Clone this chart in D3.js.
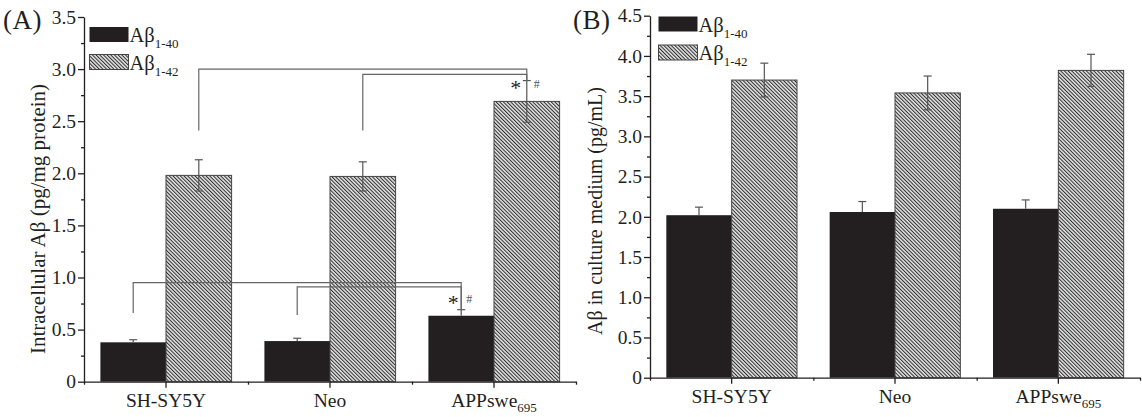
<!DOCTYPE html>
<html>
<head>
<meta charset="utf-8">
<script src="https://cdn.jsdelivr.net/npm/d3@7"></script>
<style>
  body { margin: 0; background: #fff; }
  svg text { font-family: "Liberation Serif", "Times New Roman", serif; fill: #231f20; }
</style>
</head>
<body>
<div id="chart"></div>
<script>
// categories and series
const categories = ["SH-SY5Y", "Neo", "APPswe"];
const catSubs = ["", "", "695"];
const seriesSubs = ["1-40", "1-42"];

// panel A: intracellular Abeta (pg/mg protein)
const intra140 = [0.378, 0.39, 0.633];
const intra140Err = [0.025, 0.027, 0.058];
const intra142 = [1.98, 1.97, 2.69];
const intra142Err = [0.15, 0.14, 0.20];

// panel B: Abeta in culture medium (pg/mL)
const medium140 = [2.02, 2.06, 2.10];
const medium140Err = [0.10, 0.13, 0.11];
const medium142 = [3.70, 3.54, 3.82];
const medium142Err = [0.21, 0.21, 0.20];

const yTicksA = [0, 0.5, 1.0, 1.5, 2.0, 2.5, 3.0, 3.5];
const yTicksB = [0, 0.5, 1.0, 1.5, 2.0, 2.5, 3.0, 3.5, 4.0, 4.5];

// significance brackets of panel A (from category -> to category, in one series)
const bracketsA = [
  {series: 1, from: 0, to: 2, level: 3.00, drop: 2.41},
  {series: 1, from: 1, to: 2, level: 2.95, drop: 2.41},
  {series: 0, from: 0, to: 2, level: 0.95, drop: 0.66},
  {series: 0, from: 1, to: 2, level: 0.91, drop: 0.64}
];
// "* #" marks next to the APPswe bars
const sigMarksA = [
  {series: 1, cat: 2, value: 2.86, dxStar: -11, dxHash: 10},
  {series: 0, cat: 2, value: 0.79, dxStar: -8, dxHash: 8}
];

const W = 1142, H = 417;
const ink = "#231f20";

const svg = d3.select("#chart").append("svg")
  .attr("width", W)
  .attr("height", H)
  .attr("font-family", "'Liberation Serif', 'Times New Roman', serif");

// hatch pattern for Abeta 1-42
const defs = svg.append("defs");
const pat = defs.append("pattern")
  .attr("id", "hatch")
  .attr("patternUnits", "userSpaceOnUse")
  .attr("width", 2.6)
  .attr("height", 2.6)
  .attr("patternTransform", "rotate(-45)");
pat.append("rect").attr("width", 2.6).attr("height", 2.6).attr("fill", "#e2e2e2");
pat.append("line")
  .attr("x1", 0.5).attr("y1", 0).attr("x2", 0.5).attr("y2", 2.6)
  .attr("stroke", "#2e2e2e").attr("stroke-width", 1);

function subText(sel, main, sub, bigSize, smallSize, dy) {
  sel.append("tspan").attr("font-size", bigSize).text(main);
  if (sub) sel.append("tspan").attr("font-size", smallSize).attr("dy", dy).text(sub);
}

function drawPanel(p) {
  const g = svg.append("g");

  const x = d3.scaleBand()
    .domain(categories)
    .range(p.xRange)
    .paddingInner(0)
    .paddingOuter(0);
  const bw = x.bandwidth();
  const barW = bw * 0.4;

  const y = d3.scaleLinear()
    .domain([0, p.yMax])
    .range(p.yRange);

  const series = [
    {vals: p.v140, errs: p.e140, fill: ink, stroke: "none", both: false},
    {vals: p.v142, errs: p.e142, fill: "url(#hatch)", stroke: "#444", both: true}
  ];

  // bar left edge for category i, series s
  const barX = (i, s) => x(categories[i]) + bw / 2 - barW + s * barW;
  const barMid = (i, s) => barX(i, s) + barW / 2;

  // bars
  series.forEach((s, si) => {
    g.append("g")
      .selectAll("rect")
      .data(s.vals)
      .join("rect")
        .attr("x", (d, i) => barX(i, si))
        .attr("y", d => y(d))
        .attr("width", barW)
        .attr("height", d => y(0) - y(d))
        .attr("fill", s.fill)
        .attr("stroke", s.stroke)
        .attr("stroke-width", 1);
  });

  // error bars
  series.forEach((s, si) => {
    const eg = g.append("g")
      .attr("stroke", "#555")
      .attr("stroke-width", 1.2)
      .attr("fill", "none");
    s.vals.forEach((v, i) => {
      const cx = barMid(i, si);
      const top = y(v + s.errs[i]);
      const bot = s.both ? y(v - s.errs[i]) : y(v);
      eg.append("line").attr("x1", cx).attr("x2", cx).attr("y1", top).attr("y2", bot);
      eg.append("line").attr("x1", cx - 4).attr("x2", cx + 4).attr("y1", top).attr("y2", top);
      if (s.both)
        eg.append("line").attr("x1", cx - 4).attr("x2", cx + 4).attr("y1", bot).attr("y2", bot);
    });
  });

  // brackets
  if (p.brackets) {
    const bg = g.append("g")
      .attr("stroke", "#666")
      .attr("stroke-width", 1.2)
      .attr("fill", "none");
    p.brackets.forEach(b => {
      const s = series[b.series];
      const x0 = barMid(b.from, b.series), x1 = barMid(b.to, b.series);
      const endY = y(s.vals[b.to] + s.errs[b.to]);
      bg.append("path")
        .attr("d", `M${x0},${y(b.drop)}V${y(b.level)}H${x1}V${endY}`);
    });
    p.marks.forEach(m => {
      const cx = barMid(m.cat, m.series);
      g.append("text")
        .attr("x", cx + m.dxStar)
        .attr("y", y(m.value) + 11)
        .attr("text-anchor", "middle")
        .attr("font-size", 22)
        .text("*");
      g.append("text")
        .attr("x", cx + m.dxHash)
        .attr("y", y(m.value) + 4)
        .attr("text-anchor", "middle")
        .attr("font-size", 12)
        .style("fill", "#555")
        .text("#");
    });
  }

  // y axis
  const fmt = d => d === 0 ? "0" : d3.format(".1f")(d);
  g.append("g")
    .attr("transform", `translate(${p.xRange[0]},0)`)
    .call(d3.axisLeft(y).tickValues(p.yTicks).tickSize(6).tickSizeOuter(0).tickPadding(2).tickFormat(fmt));
  const minorY = d3.range(0.25, p.yMax, 0.5);
  g.append("g")
    .attr("transform", `translate(${p.xRange[0]},0)`)
    .call(d3.axisLeft(y).tickValues(minorY).tickSize(3).tickFormat(""))
    .call(a => a.select(".domain").remove());

  // x axis
  g.append("g")
    .attr("transform", `translate(0,${y(0)})`)
    .call(d3.axisBottom(x).tickSize(6).tickSizeOuter(0).tickFormat(""));
  const edges = categories.map(c => x(c)).concat([p.xRange[1]]);
  g.append("g")
    .attr("transform", `translate(0,${y(0)})`)
    .call(d3.axisBottom(d3.scaleIdentity().domain(p.xRange)).tickValues(edges).tickSize(3).tickFormat(""))
    .call(a => a.select(".domain").remove());

  g.selectAll(".domain, .tick line")
    .attr("stroke", ink)
    .attr("stroke-width", 1.3);
  g.selectAll("g[font-family]").attr("font-family", null);
  g.selectAll(".tick text")
    .attr("font-size", 19.5)
    .style("fill", ink);

  // category labels
  categories.forEach((c, i) => {
    const t = g.append("text")
      .attr("x", x(c) + bw / 2)
      .attr("y", y(0) + 25)
      .attr("text-anchor", "middle");
    subText(t, c, catSubs[i], 19.5, 13, 5);
  });

  // y title
  g.append("text")
    .attr("transform", `translate(${p.titleX},${p.titleY}) rotate(-90)`)
    .attr("text-anchor", "middle")
    .attr("font-size", p.titleSize)
    .text(p.title);

  // panel tag
  g.append("text")
    .attr("x", p.tagX)
    .attr("y", 29)
    .attr("font-size", 27)
    .attr("letter-spacing", 0.5)
    .text(p.tag);

  // legend
  const lg = g.append("g");
  [ink, "url(#hatch)"].forEach((f, i) => {
    const ly = p.legendY + i * p.legendGap;
    lg.append("rect")
      .attr("x", p.legendX)
      .attr("y", ly)
      .attr("width", 39)
      .attr("height", 15)
      .attr("fill", f)
      .attr("stroke", i ? "#444" : "none");
    const t = lg.append("text")
      .attr("x", p.legendX + 40)
      .attr("y", ly + 15);
    subText(t, "Aβ", seriesSubs[i], 20.5, 13, 6);
  });
}

drawPanel({
  xRange: [84, 576], yRange: [381.7, 17], yMax: 3.5, yTicks: yTicksA,
  v140: intra140, e140: intra140Err, v142: intra142, e142: intra142Err,
  brackets: bracketsA, marks: sigMarksA,
  title: "Intracellular Aβ (pg/mg protein)", titleX: 45, titleY: 219, titleSize: 21,
  tag: "(A)", tagX: 3,
  legendX: 89.5, legendY: 27, legendGap: 27.5
});

drawPanel({
  xRange: [650, 1140], yRange: [377.7, 15.7], yMax: 4.5, yTicks: yTicksB,
  v140: medium140, e140: medium140Err, v142: medium142, e142: medium142Err,
  title: "Aβ in culture medium (pg/mL)", titleX: 602, titleY: 211, titleSize: 20,
  tag: "(B)", tagX: 573,
  legendX: 658.5, legendY: 16.5, legendGap: 28.5
});
</script>
</body>
</html>
